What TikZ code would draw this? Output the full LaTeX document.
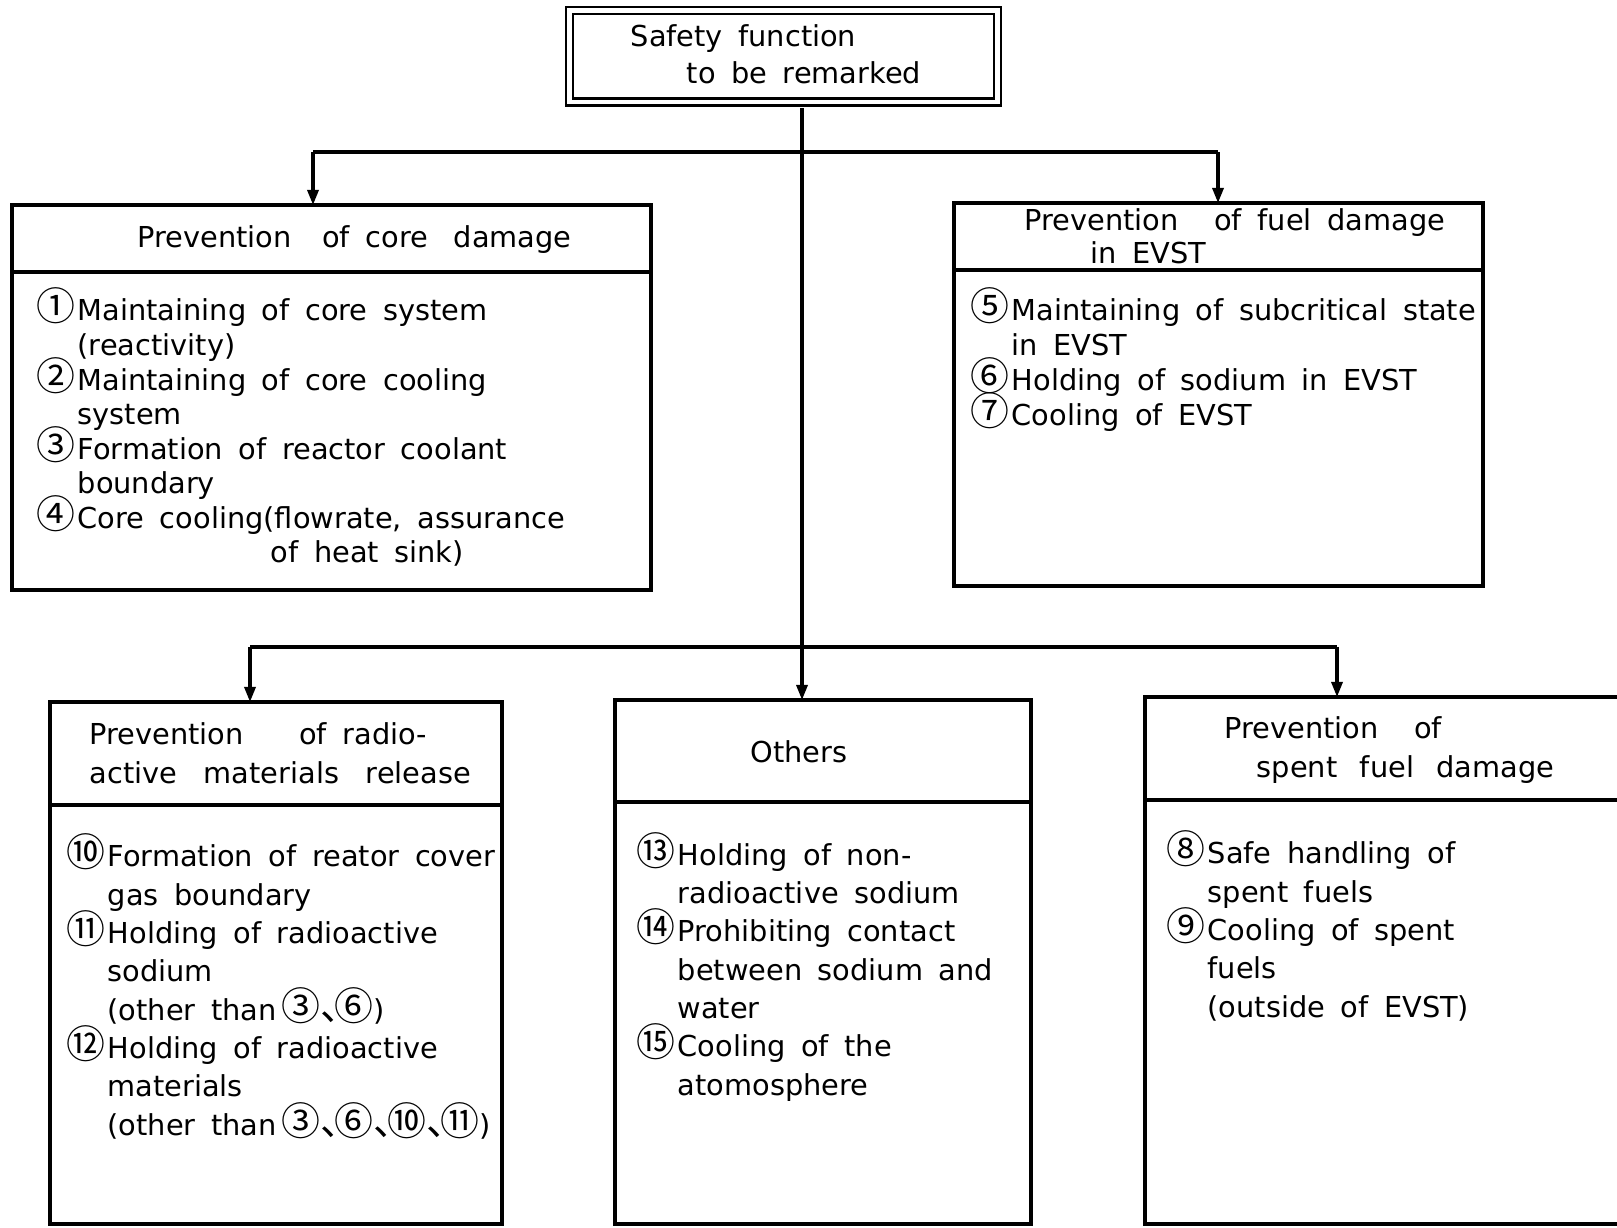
\documentclass[tikz,border=0pt]{standalone}
\usepackage{fontspec}
\setmainfont{DejaVu Sans}[WordSpace=1.7]
\newfontfamily\cjk[Scale=1.35]{Noto Sans CJK JP}
\usepackage{tikz}
\usetikzlibrary{arrows.meta,positioning}

\newcommand{\nb}[1]{\makebox[4.1mm][l]{\cjk #1}}
\newcommand{\cont}{\hspace*{4.1mm}}
\newcommand{\tn}{\makebox[1.4mm][l]{\cjk 、}}

\tikzset{
  box/.style={draw, line width=0.9pt, outer sep=0pt, inner sep=0pt, anchor=north west},
  txt/.style={align=left, anchor=base west, inner sep=0pt,
    font={\fontsize{8.2}{#1}\selectfont\lineskiplimit=-5pt}},
  txt/.default=9.84pt,
  conn/.style={line width=0.9pt},
  arr/.style={line width=0.9pt, -{Triangle[length=1.5mm,width=1.1mm]}},
}

\begin{document}
\begin{tikzpicture}
    \useasboundingbox (0,0) rectangle (16.17,-12.28);

    \coordinate (jTop) at (8.02,-1.52);
    \coordinate (jBot) at (8.02,-6.47);
    \coordinate (aL) at (3.13,-1.52);
    \coordinate (aR) at (12.18,-1.52);
    \coordinate (bL) at (2.50,-6.47);
    \coordinate (bR) at (13.37,-6.47);

    % top
    \node[draw, double, line width=0.7pt, double distance=0.45mm, inner sep=0pt,
      minimum width=4.28cm, minimum height=0.915cm] (safety) at (7.835,-0.5625) {};
    % text nodes sit on the baseline of their last line
    \node[txt=10.8pt] (safetyT) at (6.30,-0.84) {Safety function\\\hspace*{5.6mm}to be remarked};

    % boxes: header + body
    \node[box, minimum width=6.39cm, minimum height=0.67cm] (coreH) at (0.12,-2.05) {};
    \node[box, minimum width=6.39cm, minimum height=3.18cm, below=0pt of coreH] (coreB) {};
    \node[box, minimum width=5.29cm, minimum height=0.67cm] (evstH) at (9.54,-2.03) {};
    \node[box, minimum width=5.29cm, minimum height=3.16cm, below=0pt of evstH] (evstB) {};
    \node[box, minimum width=4.52cm, minimum height=1.03cm] (radioH) at (0.50,-7.02) {};
    \node[box, minimum width=4.52cm, minimum height=4.19cm, below=0pt of radioH] (radioB) {};
    \node[box, minimum width=4.16cm, minimum height=1.02cm] (othH) at (6.15,-7.00) {};
    \node[box, minimum width=4.16cm, minimum height=4.22cm, below=0pt of othH] (othB) {};
    \node[box, minimum width=5.20cm, minimum height=1.03cm] (spentH) at (11.45,-6.97) {};
    \node[box, minimum width=5.20cm, minimum height=4.24cm, below=0pt of spentH] (spentB) {};

    % headers
    \node[txt] (coreHT) at (1.37,-2.48) {Prevention\hspace{1.5mm} of core\hspace{1mm} damage};
    \node[txt=3.3mm] (evstHT) at (10.24,-2.64) {Prevention\hspace{2mm} of fuel damage\\\hspace*{6.6mm}in EVST};
    \node[txt=3.9mm] (radioHT) at (0.89,-7.84) {Prevention\hspace{4mm} of radio-\\[0pt]active\hspace{1.1mm} materials\hspace{1.1mm} release};
    \node[txt, anchor=base] (othHT) at (7.99,-7.62) {Others};
    \node[txt=3.8mm] (spentHT) at (12.24,-7.77) {Prevention\hspace{2mm} of\\\hspace*{3.2mm}spent\hspace{0.7mm} fuel\hspace{0.7mm} damage};

    % items
    \node[txt] (coreT) at (0.36,-5.63) {%
      \nb{①}Maintaining of core system\\
      \cont(reactivity)\\
      \nb{②}Maintaining of core cooling\\
      \cont system\\
      \nb{③}Formation of reactor coolant\\
      \cont boundary\\
      \nb{④}Core cooling(flowrate, assurance\\
      \hspace*{23.4mm}of heat sink)};
    \node[txt=3.5mm] (evstT) at (9.70,-4.26) {%
      \nb{⑤}Maintaining of subcritical state\\
      \cont in EVST\\
      \nb{⑥}Holding of sodium in EVST\\
      \nb{⑦}Cooling of EVST};
    \node[txt=10.9pt] (radioT) at (0.66,-11.35) {%
      \nb{⑩}Formation of reator cover\\
      \cont gas boundary\\
      \nb{⑪}Holding of radioactive\\
      \cont sodium\\
      \cont(other than\,{\cjk ③}\tn{\cjk ⑥})\\
      \nb{⑫}Holding of radioactive\\
      \cont materials\\
      \cont(other than\,{\cjk ③}\tn{\cjk ⑥}\tn{\cjk ⑩}\tn{\cjk ⑪})};
    \node[txt=10.9pt] (othT) at (6.36,-10.95) {%
      \nb{⑬}Holding of non-\\
      \cont radioactive sodium\\
      \nb{⑭}Prohibiting contact\\
      \cont between sodium and\\
      \cont water\\
      \nb{⑮}Cooling of the\\
      \cont atomosphere};
    \node[txt=10.9pt] (spentT) at (11.66,-10.17) {%
      \nb{⑧}Safe handling of\\
      \cont spent fuels\\
      \nb{⑨}Cooling of spent\\
      \cont fuels\\
      \cont(outside of EVST)};

    % connectors
    \draw[conn, shorten <=0.5mm] (safety.south -| jTop) -- (jBot);
    \draw[conn] (aL) -- (aR);
    \draw[conn] (bL) -- (bR);
    \draw[arr] (aL) -- (aL |- coreH.north);
    \draw[arr] (aR) -- (aR |- evstH.north);
    \draw[arr] (bL) -- (bL |- radioH.north);
    \draw[arr] (jBot) -- (jBot |- othH.north);
    \draw[arr] (bR) -- (bR |- spentH.north);
\end{tikzpicture}
\end{document}
